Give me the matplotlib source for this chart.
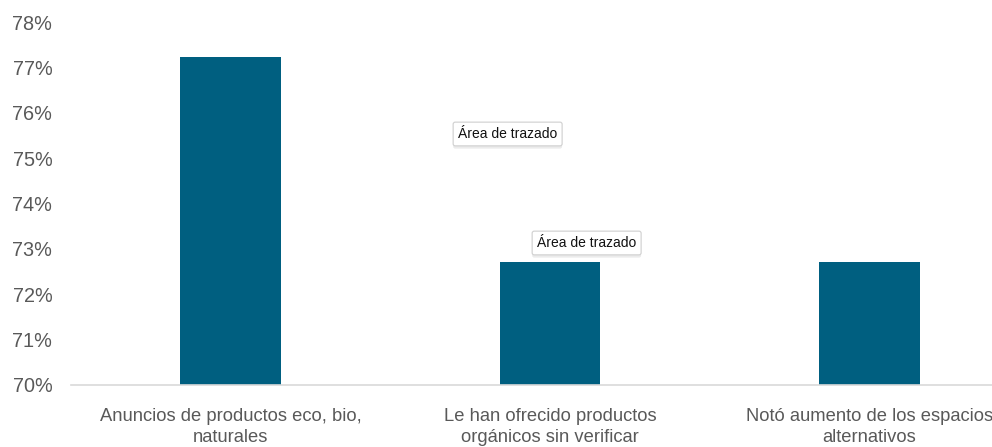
import matplotlib
matplotlib.use("Agg")
from matplotlib import pyplot as plt
from matplotlib.ticker import FuncFormatter
import matplotlib.patheffects as pe

plt.rcParams['font.family'] = ['Liberation Sans', 'DejaVu Sans']

categories = ["Anuncios de productos eco, bio,\nnaturales",
              "Le han ofrecido productos\norgánicos sin verificar",
              "Notó aumento de los espacios\nalternativos"]
values = [77.23, 72.7, 72.7]
y_ticks = [70, 71, 72, 73, 74, 75, 76, 77, 78]

fig = plt.figure(figsize=(9.92, 4.47), dpi=100)
ax = fig.add_axes([71 / 992, 62 / 447, 958 / 992, 363 / 447])

x = list(range(len(categories)))
ax.bar(x, [v - 70 for v in values], bottom=70, width=0.316, color="#005F80", zorder=2)

ax.set_xlim(-0.5, 2.5)
ax.set_ylim(70, 78)
ax.set_yticks(y_ticks)
ax.yaxis.set_major_formatter(FuncFormatter(lambda v, p: f"{v:.0f}%"))
ax.set_xticks(x)
ax.set_xticklabels(categories, fontsize=13.2, color="#595959", linespacing=1.3)

for s in ["top", "right", "left"]:
    ax.spines[s].set_visible(False)
ax.spines["bottom"].set_color("#D9D9D9")
ax.spines["bottom"].set_linewidth(1.2)
ax.tick_params(axis="y", length=0, labelsize=14.3, labelcolor="#595959", pad=13.5)
ax.tick_params(axis="x", length=0, pad=16.5)

# hover tooltips over the plot area
tip_box = dict(boxstyle="round,pad=0.35,rounding_size=0.15", fc="white", ec="#CFCFCF", lw=0.8)
for tx, ty in [(458 / 992, 1 - 134 / 447), (537 / 992, 1 - 243 / 447)]:
    t = fig.text(tx, ty, "Área de trazado", fontsize=10, color="#111111",
                 va="center", ha="left", bbox=tip_box, zorder=5)
    t.get_bbox_patch().set_path_effects([
        pe.SimplePatchShadow(offset=(0, -2), shadow_rgbFace="#000000", alpha=0.08),
        pe.Normal()])

fig.savefig("out.png", dpi=100)
